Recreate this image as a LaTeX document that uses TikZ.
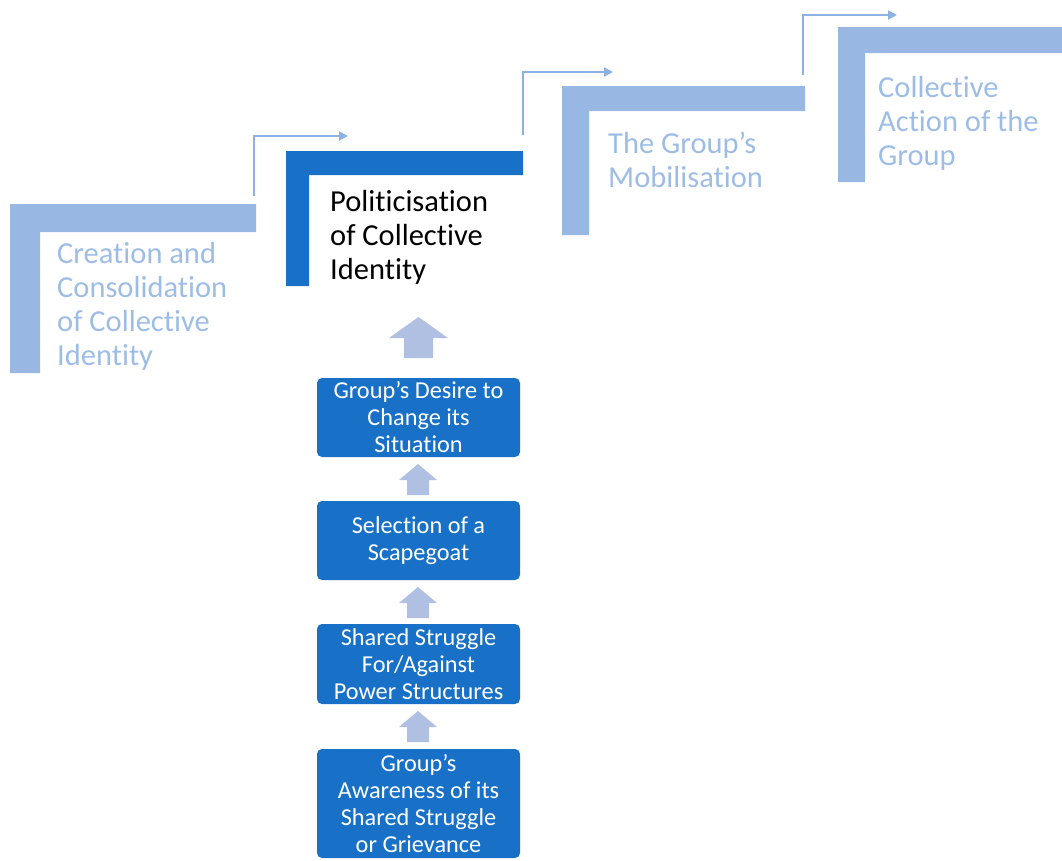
\documentclass[tikz,border=0pt]{standalone}
\usepackage{fontspec}
\setmainfont{Carlito}[Ligatures=NoCommon]
\usetikzlibrary{arrows.meta}
\definecolor{steplight}{HTML}{98B8E3}
\definecolor{steptext}{HTML}{9DBDE6}
\definecolor{stepdark}{HTML}{1871C7}
\definecolor{boxblue}{HTML}{1871C7}
\definecolor{upfill}{HTML}{B0C0E2}
\definecolor{flow}{HTML}{8DB1E2}
\begin{document}
\begin{tikzpicture}[x=1pt,y=-1pt,
  steplabel/.style={anchor=north west, inner sep=0pt, align=left,
    font=\fontsize{30.5}{34}\selectfont, text=steptext},
  stagebox/.style={fill=boxblue, rounded corners=5pt, text=white, align=center,
    font=\fontsize{24.3}{27}\selectfont, minimum width=203pt, inner sep=0pt},
  flowarrow/.style={draw=flow, line width=2pt, -{Triangle[length=9pt,width=9pt]}},
  uparr/.pic={\fill[upfill] (-11,0) -- (11,0) -- (11,-15) -- (19,-15) -- (0,-31)
      -- (-19,-15) -- (-11,-15) -- cycle;},
  bigup/.pic={\fill[upfill] (-14.5,0) -- (14.5,0) -- (14.5,-20) -- (29.5,-20) -- (0,-41)
      -- (-29.5,-20) -- (-14.5,-20) -- cycle;},
]
\useasboundingbox (0,0) rectangle (1062,860);

% staircase of stages
\fill[steplight] (10,204) -- (256,204) -- (256,232) -- (40,232) -- (40,373) -- (10,373) -- cycle;
\fill[stepdark] (286,151) -- (523,151) -- (523,175) -- (309,175) -- (309,286) -- (286,286) -- cycle;
\fill[steplight] (562,86) -- (805,86) -- (805,111) -- (589,111) -- (589,235) -- (562,235) -- cycle;
\fill[steplight] (838,27) -- (1062,27) -- (1062,53) -- (865,53) -- (865,182) -- (838,182) -- cycle;

\node[steplabel] (stage1) at (57,242.5) {Creation and\\Consolidation\\of Collective\\Identity};
\node[steplabel, text=black] (stage2) at (330,190.5) {Politicisation\\of Collective\\Identity};
\node[steplabel] (stage3) at (608,131.5) {The Group’s\\Mobilisation};
\node[steplabel] (stage4) at (878,76.5) {Collective\\Action of the\\Group};

% elbow connectors between stages
\coordinate (s1out) at (254,196);
\coordinate (s2in) at (348,136);
\coordinate (s2out) at (523,135);
\coordinate (s3in) at (613,72);
\coordinate (s3out) at (803,75);
\coordinate (s4in) at (897,15);
\draw[flowarrow] (s1out) |- (s2in);
\draw[flowarrow] (s2out) |- (s3in);
\draw[flowarrow] (s3out) |- (s4in);

% contributing factors
\node[stagebox, minimum height=79pt] (desire) at (418.5,417.5) {Group’s Desire to\\Change its\\Situation};
\node[stagebox, minimum height=79pt] (scape) at (418.5,540.5) {Selection of a\\Scapegoat};
\node[stagebox, minimum height=80pt] (power) at (418.5,664) {Shared Struggle\\For/Against\\Power Structures};
\node[stagebox, minimum height=109pt] (aware) at (418.5,803.5) {Group’s\\Awareness of its\\Shared Struggle\\or Grievance};

\pic at (418,742) {uparr};
\pic at (418,618) {uparr};
\pic at (418,495) {uparr};
\pic at (418.5,358) {bigup};
\end{tikzpicture}
\end{document}
